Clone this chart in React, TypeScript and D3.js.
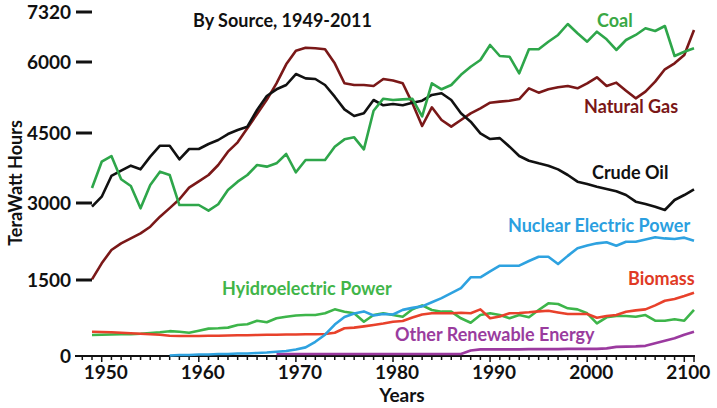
import React from "react";
import * as d3 from "d3";

// ---------- data ----------
const years: number[] = d3.range(1949, 2012);

const coal = [3320, 3885, 4007, 3508, 3364, 2897, 3386, 3671, 3600, 2960, 2960, 2961, 2850, 2975, 3279, 3457, 3600, 3814, 3779, 3850, 4050, 3658, 3921, 3921, 3921, 4206, 4364, 4407, 4150, 4971, 5225, 5197, 5211, 5220, 4850, 5550, 5423, 5514, 5730, 5900, 6053, 6449, 6158, 6140, 5761, 6336, 6336, 6536, 6714, 7003, 6758, 6536, 6800, 6600, 6317, 6581, 6714, 6890, 6818, 6950, 6158, 6272, 6362];

const naturalGas = [1513, 1825, 2084, 2214, 2310, 2409, 2538, 2733, 2900, 3080, 3330, 3464, 3600, 3814, 4100, 4300, 4600, 4900, 5200, 5550, 5950, 6300, 6377, 6362, 6335, 5972, 5550, 5514, 5514, 5493, 5640, 5610, 5550, 5127, 4648, 5043, 4775, 4634, 4775, 4916, 5022, 5140, 5162, 5183, 5218, 5444, 5352, 5423, 5465, 5493, 5444, 5550, 5677, 5493, 5564, 5395, 5232, 5374, 5585, 5846, 5972, 6185, 6845];

const crudeOil = [2928, 3135, 3580, 3692, 3800, 3722, 3993, 4228, 4228, 3936, 4157, 4157, 4264, 4350, 4478, 4563, 4634, 4986, 5282, 5423, 5514, 5746, 5655, 5641, 5514, 5267, 5000, 4859, 4916, 5197, 5085, 5113, 5085, 5140, 5183, 5303, 5339, 5197, 4916, 4739, 4493, 4370, 4390, 4207, 4007, 3906, 3850, 3800, 3720, 3600, 3457, 3407, 3350, 3300, 3250, 3171, 3028, 2980, 2928, 2864, 3064, 3171, 3293];

const nuclearStart = 1957;
const nuclear = [10, 20, 20, 30, 30, 40, 40, 50, 50, 60, 70, 85, 100, 130, 170, 280, 420, 620, 770, 840, 880, 800, 830, 820, 910, 950, 980, 1060, 1143, 1240, 1338, 1553, 1553, 1670, 1779, 1779, 1779, 1870, 1954, 1954, 1810, 1970, 2117, 2170, 2214, 2234, 2168, 2246, 2246, 2290, 2332, 2310, 2299, 2325, 2266];

const hydro = [414, 420, 425, 430, 430, 440, 455, 470, 490, 480, 460, 500, 540, 547, 560, 612, 626, 697, 665, 744, 776, 800, 809, 809, 843, 921, 875, 843, 677, 809, 843, 809, 776, 921, 1000, 908, 875, 875, 744, 657, 809, 843, 809, 744, 809, 764, 908, 1040, 1026, 941, 921, 843, 645, 764, 790, 790, 776, 809, 697, 697, 724, 697, 908];

const biomass = [480, 475, 470, 460, 450, 440, 430, 420, 400, 395, 395, 395, 400, 400, 405, 410, 410, 415, 420, 420, 425, 425, 430, 430, 434, 460, 547, 560, 585, 612, 640, 677, 690, 760, 820, 843, 843, 843, 855, 843, 921, 744, 780, 843, 850, 862, 880, 894, 860, 829, 829, 829, 756, 790, 809, 875, 900, 921, 1000, 1091, 1125, 1184, 1250];

const otherStart = 1968;
const otherRenewable = [40, 40, 40, 40, 40, 40, 40, 40, 40, 40, 40, 40, 40, 40, 40, 40, 40, 40, 40, 40, 110, 130, 130, 130, 130, 130, 135, 135, 135, 135, 140, 140, 140, 140, 150, 180, 185, 190, 200, 250, 300, 349, 420, 480];

const yTicks = [0, 1500, 3000, 4500, 6000, 7320];
const xTickLabels = ["1950", "1960", "1970", "1980", "1990", "2000", "2100"];
const xTickYears = [1950, 1960, 1970, 1980, 1990, 2000, 2010];

type Series = { name: string; start: number; values: number[]; color: string };
const series: Series[] = [
  { name: "Hydro", start: 1949, values: hydro, color: "#3db54a" },
  { name: "Biomass", start: 1949, values: biomass, color: "#e8412b" },
  { name: "Other", start: otherStart, values: otherRenewable, color: "#9b3a9f" },
  { name: "Nuclear", start: nuclearStart, values: nuclear, color: "#2ea2e0" },
  { name: "Natural Gas", start: 1949, values: naturalGas, color: "#7a1818" },
  { name: "Crude Oil", start: 1949, values: crudeOil, color: "#111111" },
  { name: "Coal", start: 1949, values: coal, color: "#2ea64a" },
];

const labels = [
  { text: "Coal", x: 597, y: 27, color: "#3aa845" },
  { text: "Natural Gas", x: 584, y: 113, color: "#7a1616" },
  { text: "Crude Oil", x: 592, y: 179, color: "#111111" },
  { text: "Nuclear Electric Power", x: 508, y: 232, color: "#2b9fe0" },
  { text: "Biomass", x: 628, y: 285, color: "#e03a25" },
  { text: "Hyidroelectric Power", x: 222, y: 295, color: "#41b549" },
  { text: "Other Renewable Energy", x: 395, y: 341, color: "#9a3c9e" },
];

// ---------- layout ----------
const W = 717;
const H = 408;
const FONT = "Lato, 'Open Sans', sans-serif";

export default function App() {
  const x = d3.scaleLinear().domain([1949, 2011]).range([92, 694]);
  const y = d3.scaleLinear().domain(yTicks).range([356, 280, 203, 133, 62, 12]);

  const line = d3
    .line<number>()
    .x((_, i) => 0)
    .y((d) => y(d));

  const pathFor = (s: Series) =>
    d3
      .line<number>()
      .x((_, i) => x(s.start + i))
      .y((d) => y(d))(s.values) || "";

  const minorYears = d3.range(1948, 2012);
  const axisY = y(0);

  return (
    <div style={{ position: "fixed", left: 0, top: 0, width: W, height: H, background: "#fff" }}>
      <svg width={W} height={H} style={{ display: "block" }} fontFamily={FONT} fontWeight={700}>
        <rect width={W} height={H} fill="#fff" />
        {/* title */}
        <text x={193} y={27} fontSize={18} fill="#111">By Source, 1949-2011</text>

        {/* y axis */}
        {yTicks.map((t) => (
          <g key={t}>
            {t !== 0 && (
              <line x1={76} x2={92} y1={y(t)} y2={y(t)} stroke="#111" strokeWidth={3} />
            )}
            <text x={71} y={y(t)} dy="0.35em" textAnchor="end" fontSize={19} fill="#111">
              {t}
            </text>
          </g>
        ))}
        <text
          transform={`translate(22,${183}) rotate(-90)`}
          textAnchor="middle"
          fontSize={18}
          fill="#111"
        >
          TeraWatt Hours
        </text>

        {/* x axis */}
        <line x1={75} x2={x(2011) + 1} y1={axisY} y2={axisY} stroke="#111" strokeWidth={2} />
        {minorYears.map((yr) => (
          <line
            key={yr}
            x1={x(yr)}
            x2={x(yr)}
            y1={axisY}
            y2={axisY + (yr % 10 === 0 || yr === 2011 ? 6 : 4)}
            stroke="#111"
            strokeWidth={1.5}
          />
        ))}
        {xTickYears.map((yr, i) => (
          <text key={yr} x={x(yr) + 4} y={379} textAnchor="middle" fontSize={19} fill="#111">
            {xTickLabels[i]}
          </text>
        ))}
        <text x={402} y={402} textAnchor="middle" fontSize={19} fill="#111">Years</text>

        {/* series */}
        {series.map((s) => (
          <path
            key={s.name}
            d={pathFor(s)}
            fill="none"
            stroke={s.color}
            strokeWidth={2.6}
            strokeLinejoin="round"
          />
        ))}

        {/* labels */}
        {labels.map((l) => (
          <text key={l.text} x={l.x} y={l.y} fontSize={18} fill={l.color}>
            {l.text}
          </text>
        ))}
      </svg>
    </div>
  );
}
